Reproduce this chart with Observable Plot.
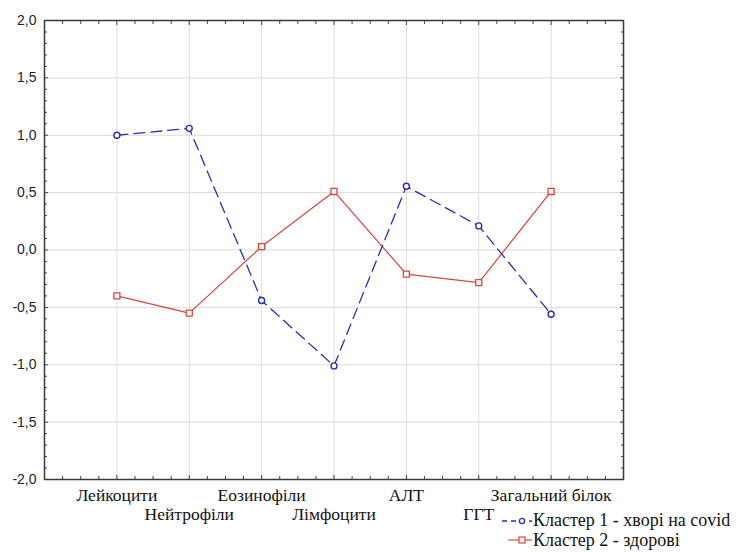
<!DOCTYPE html>
<html>
<head>
<meta charset="utf-8">
<script src="https://cdn.jsdelivr.net/npm/d3@7"></script>
<script src="https://cdn.jsdelivr.net/npm/@observablehq/plot@0.6"></script>
<style>
  html, body { margin: 0; padding: 0; background: #fff; }
  #wrap { position: relative; width: 737px; height: 552px; }
  #legend { position: absolute; left: 501px; top: 511px; font-family: "Liberation Serif", "Times New Roman", serif; font-size: 18px; color: #111; line-height: 19.5px; }
  #legend .row { display: flex; align-items: center; white-space: nowrap; }
  #legend svg { display: block; }
</style>
</head>
<body>
<div id="wrap"></div>
<script>
const categories = ["Лейкоцити", "Нейтрофіли", "Еозинофіли", "Лімфоцити", "АЛТ", "ГГТ", "Загальний білок"];
const cluster1 = [1.00, 1.06, -0.44, -1.01, 0.555, 0.21, -0.56];
const cluster2 = [-0.40, -0.55, 0.03, 0.51, -0.21, -0.285, 0.51];
const seriesNames = ["Кластер 1 - хворі на covid", "Кластер 2 - здорові"];
const yMajorTicks = [-2, -1.5, -1, -0.5, 0, 0.5, 1, 1.5, 2];

const blue = "#2b2fa8";
const red = "#d8453f";

const rows1 = categories.map((c, i) => ({cat: c, idx: i + 1, value: cluster1[i]}));
const rows2 = categories.map((c, i) => ({cat: c, idx: i + 1, value: cluster2[i]}));
const idxTicks = categories.map((c, i) => i + 1);
const xMinor = d3.range(0, 8.001, 0.25).filter(v => !Number.isInteger(v));
const yMinor = d3.range(-20, 21).map(v => v / 10).filter(v => Math.abs(v * 2 - Math.round(v * 2)) > 1e-9);
const fmt = d => d3.format(".1f")(d).replace(".", ",").replace("−", "-");
const labelOdd = idxTicks.filter(v => v % 2 === 1);
const labelEven = idxTicks.filter(v => v % 2 === 0);
const labelOf = d => categories[d - 1];

const serif = "Liberation Serif, Times New Roman, serif";
const tk = {fill: "none", label: null, stroke: "#444"};

const chart = Plot.plot({
  width: 737,
  height: 552,
  marginLeft: 44,
  marginRight: 114,
  marginTop: 20,
  marginBottom: 73,
  style: {fontFamily: "Liberation Sans, Arial, sans-serif", background: "#fff", overflow: "visible"},
  x: {type: "linear", domain: [0, 8], axis: null},
  y: {domain: [-2, 2], axis: null},
  marks: [
    Plot.gridY(yMajorTicks.slice(1, -1), {stroke: "#dcdcdc", strokeOpacity: 1}),
    Plot.gridX(idxTicks, {stroke: "#dcdcdc", strokeOpacity: 1}),
    // y axis labels
    Plot.axisY(yMajorTicks, {anchor: "left", tickSize: 0, tickPadding: 8, tickFormat: fmt, fontSize: 14, fill: "#222", label: null}),
    // inward ticks on all four sides
    Plot.axisY(yMinor, {anchor: "left", tickSize: -3, ...tk}),
    Plot.axisY(yMajorTicks, {anchor: "left", tickSize: -4, ...tk}),
    Plot.axisY(yMinor, {anchor: "right", tickSize: -3, ...tk}),
    Plot.axisY(yMajorTicks, {anchor: "right", tickSize: -4, ...tk}),
    Plot.axisX(xMinor, {anchor: "bottom", tickSize: -3, ...tk}),
    Plot.axisX(idxTicks, {anchor: "bottom", tickSize: -4, ...tk}),
    Plot.axisX(xMinor, {anchor: "top", tickSize: -3, ...tk}),
    Plot.axisX(idxTicks, {anchor: "top", tickSize: -4, ...tk}),
    // staggered category labels
    Plot.axisX(labelOdd, {anchor: "bottom", tickSize: 0, tickPadding: 9, tickFormat: labelOf, fontSize: 17.5, fontFamily: serif, fill: "#111", label: null}),
    Plot.axisX(labelEven, {anchor: "bottom", tickSize: 0, tickPadding: 28, tickFormat: labelOf, fontSize: 17.5, fontFamily: serif, fill: "#111", label: null}),
    Plot.frame({stroke: "#3a3a3a", strokeWidth: 1.5}),
    // series
    Plot.line(rows2, {x: "idx", y: "value", stroke: red, strokeWidth: 1.2}),
    Plot.line(rows1, {x: "idx", y: "value", stroke: blue, strokeWidth: 1.3, strokeDasharray: "11,6"}),
    Plot.dot(rows2, {x: "idx", y: "value", symbol: "square", r: 3.4, stroke: red, strokeWidth: 1.3, fill: "#fff"}),
    Plot.dot(rows1, {x: "idx", y: "value", symbol: "circle", r: 3, stroke: blue, strokeWidth: 1.4, fill: "#fff"})
  ]
});

const wrap = document.getElementById("wrap");
wrap.appendChild(chart);

const legend = document.createElement("div");
legend.id = "legend";
legend.innerHTML = `
  <div class="row"><svg width="32" height="12"><line x1="1" y1="6" x2="31" y2="6" stroke="${blue}" stroke-width="1.3" stroke-dasharray="5,4"/><circle cx="21" cy="6" r="2.6" fill="#fff" stroke="${blue}" stroke-width="1.3"/></svg><span>${seriesNames[0]}</span></div>
  <div class="row"><svg width="32" height="12"><line x1="7" y1="6" x2="31" y2="6" stroke="${red}" stroke-width="1.2"/><rect x="18" y="3" width="6" height="6" fill="#fff" stroke="${red}" stroke-width="1.2"/></svg><span>${seriesNames[1]}</span></div>`;
wrap.appendChild(legend);
</script>
</body>
</html>
